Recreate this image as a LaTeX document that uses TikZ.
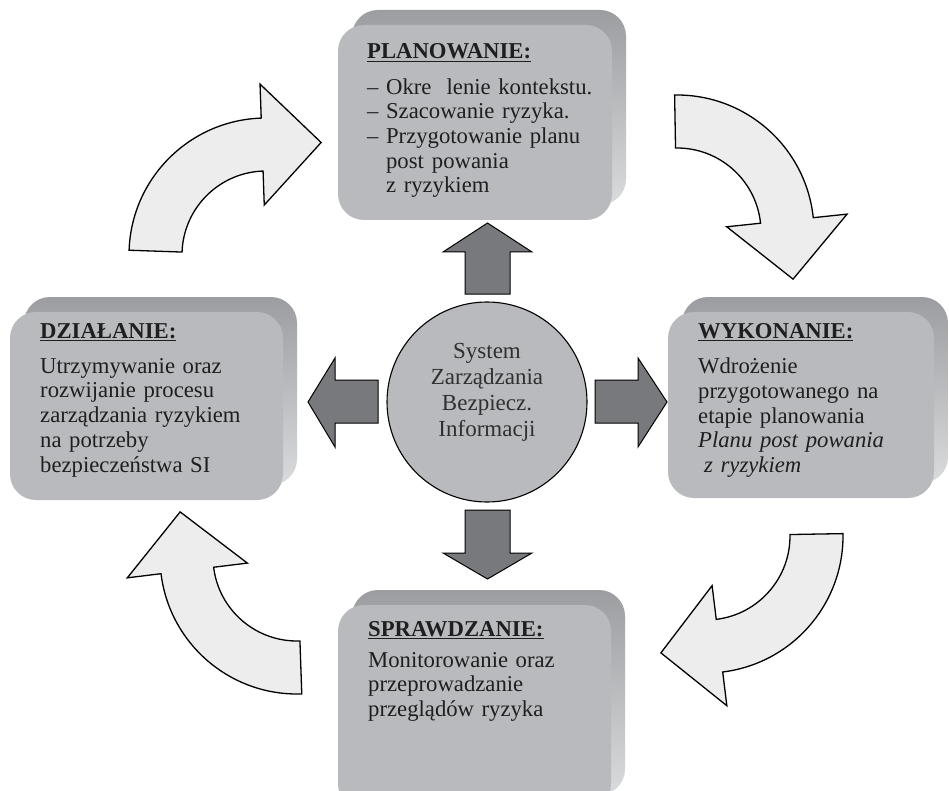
\documentclass[tikz,border=0pt]{standalone}
\usepackage{fontspec}
\setmainfont{Liberation Serif}
\usetikzlibrary{calc}
\definecolor{boxgray}{HTML}{B9BABD}
\definecolor{bevtop}{HTML}{9C9DA0}
\definecolor{bevbot}{HTML}{DADBDD}
\definecolor{carrfill}{HTML}{ECEDEC}
\definecolor{darrfill}{HTML}{78797D}
\definecolor{textc}{HTML}{1F1F1F}
\definecolor{circtext}{HTML}{303030}
\newcommand\ttl[1]{\setbox0\hbox{\textbf{#1}}\rlap{\rule[-3.4pt]{\wd0}{1.6pt}}\box0}
\newcommand\bevelbox[5]{%
  \path[top color=bevtop, bottom color=bevbot, rounded corners=26pt] (#2+14,#3-15) rectangle (#4+14,#5-15);
  \node[face, minimum width={#4-#2}, minimum height={#5-#3}] (#1) at ({(#2+#4)/2},{(#3+#5)/2}) {};}
\newcommand\curvarrow[4]{%
  \begin{scope}[shift={(#1,#2)}, rotate=-#4]
    \pgfmathsetmacro\cphis{#3-#4}
    \draw[carrow] (\cphis:137) arc[start angle=\cphis, end angle=0, radius=137]
      -- (171,0) -- (110.5,59) -- (50,0) -- (84,0)
      arc[start angle=0, end angle=\cphis, radius=84] -- cycle;
  \end{scope}}
\tikzset{
  face/.style={rectangle, rounded corners=26pt, fill=boxgray, draw=none, inner sep=0pt},
  carrow/.style={fill=carrfill, draw=black, line width=1.3pt, line join=miter},
  darrow/.style={fill=darrfill, draw=black, line width=1pt},
  txt/.style={inner sep=0pt, text width=300pt, align=left, text=textc,
    font=\fontsize{22.7}{24.7}\selectfont},
  ctxt/.style={inner sep=0pt, text width=160pt, align=center, text=circtext,
    font=\fontsize{23}{26}\selectfont},
}
\begin{document}
\begin{tikzpicture}[x=1pt, y=-1pt]
\useasboundingbox (0,0) rectangle (949,791);
\clip (0,0) rectangle (949,791);
\fill[white] (0,0) rectangle (949,791);

% boxes
\bevelbox{plan}{338}{25}{612}{220}
\bevelbox{wyk}{668}{312}{934}{498}
\bevelbox{spr}{338}{605}{611}{810}
\bevelbox{dzi}{10}{312}{283}{500}

% centre
\node[circle, draw=black, line width=1.1pt, fill=boxgray, minimum size=200pt, inner sep=0pt] (sys) at (487,402) {};
\node[ctxt, anchor=base] (syst) at (487,358) {System\\Zarządzania\\Bezpiecz.\\Informacji};

% straight block arrows
\draw[darrow] (465,294) -- (465,252) -- (443,252) -- (487.5,223) -- (532,252) -- (510,252) -- (510,294) -- cycle;
\draw[darrow] (465,510) -- (465,553) -- (443,553) -- (487.5,579) -- (532,553) -- (510,553) -- (510,510) -- cycle;
\draw[darrow] (378,380) -- (335,380) -- (335,358) -- (308,402) -- (335,447) -- (335,423) -- (378,423) -- cycle;
\draw[darrow] (595,380) -- (638,380) -- (638,358) -- (667,402) -- (638,447) -- (638,423) -- (595,423) -- cycle;

% curved arrows
\curvarrow{266}{255}{182}{268}
\curvarrow{677}{232}{269}{354}
\curvarrow{706}{536}{-1}{83}
\curvarrow{297}{557}{88}{173}

% texts
\node[txt, anchor=base west] (plant) at (367,59) {\ttl{PLANOWANIE:}\\[10.5pt]
– Okre~~lenie kontekstu.\\
– Szacowanie ryzyka.\\
– Przygotowanie planu\\
\phantom{– }post\hspace{8pt}powania\\
\phantom{– }z ryzykiem};

\node[txt, anchor=base west] (wykt) at (698,338) {\ttl{WYKONANIE:}\\[11pt]
Wdrożenie\\
przygotowanego na\\
etapie planowania\\
\textit{Planu post\hspace{8pt}powania}\\
\hspace*{6pt}\textit{z ryzykiem}};

\node[txt, anchor=base west] (sprt) at (368,636) {\ttl{SPRAWDZANIE:}\\[6.5pt]
Monitorowanie oraz\\
przeprowadzanie\\
przeglądów ryzyka};

\node[txt, anchor=base west] (dzit) at (40,338) {\ttl{DZIAŁANIE:}\\[10.5pt]
Utrzymywanie oraz\\
rozwijanie procesu\\
zarządzania ryzykiem\\
na potrzeby\\
bezpieczeństwa SI};
\end{tikzpicture}
\end{document}
